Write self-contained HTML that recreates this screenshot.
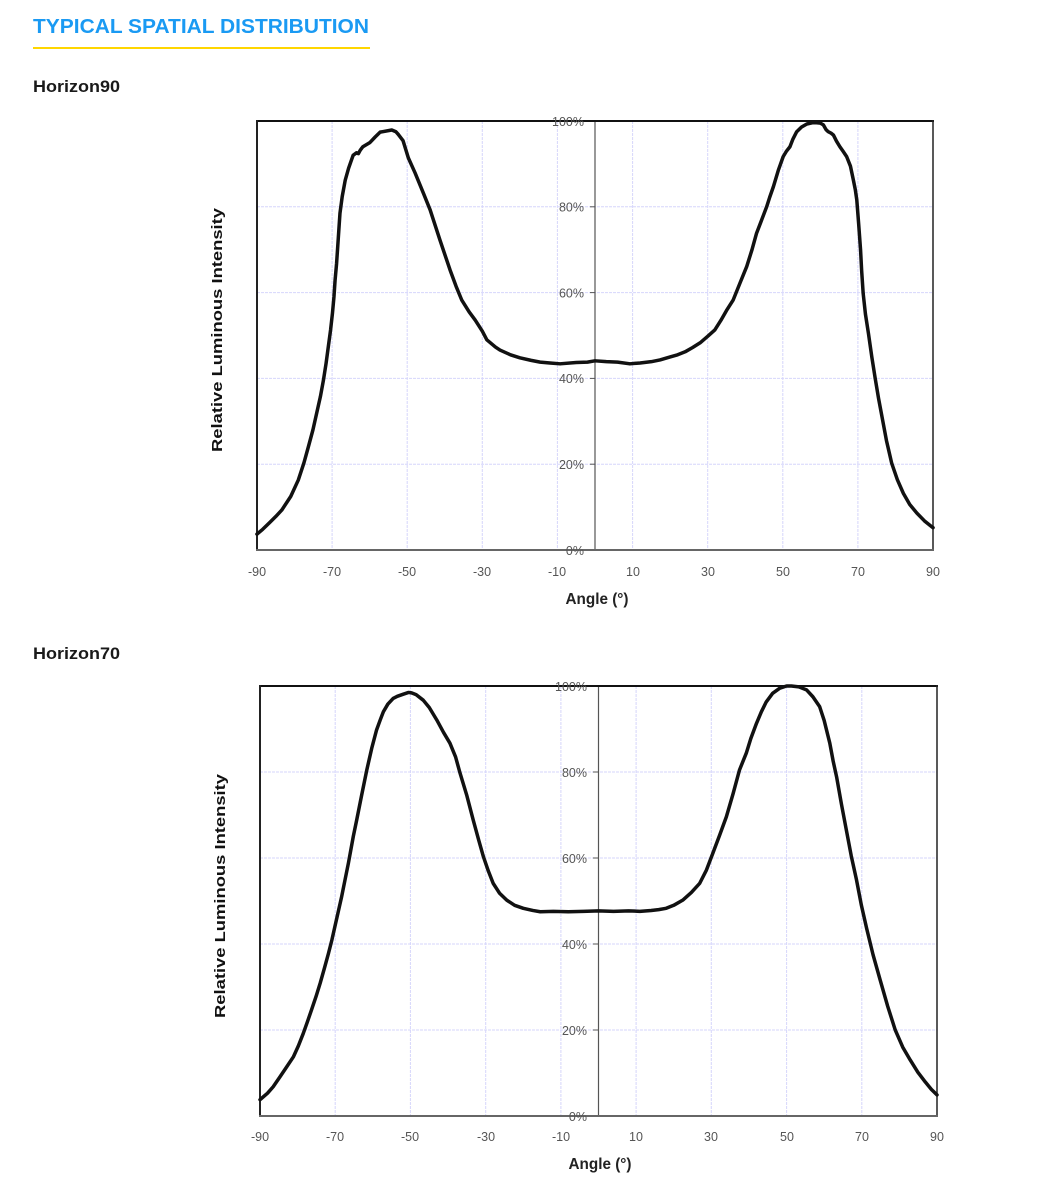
<!DOCTYPE html>
<html><head><meta charset="utf-8"><style>
html,body{margin:0;padding:0;background:#fff;}
svg{display:block;}
</style></head><body>
<svg width="1059" height="1200" viewBox="0 0 1059 1200" xmlns="http://www.w3.org/2000/svg" font-family="Liberation Sans, Arial, sans-serif">
<rect width="1059" height="1200" fill="#fff"/>
<text x="33" y="33" font-size="20" font-weight="bold" fill="#1a9af3" textLength="336" lengthAdjust="spacingAndGlyphs">TYPICAL SPATIAL DISTRIBUTION</text>
<rect x="33" y="47" width="337" height="2" fill="#ffd600"/>
<text x="33" y="92" font-size="17" font-weight="bold" fill="#1a1a1a" textLength="87" lengthAdjust="spacingAndGlyphs">Horizon90</text>
<text x="33" y="659" font-size="17" font-weight="bold" fill="#1a1a1a" textLength="87" lengthAdjust="spacingAndGlyphs">Horizon70</text>

<!-- Chart 1 -->
<g stroke="#d6d6fb" stroke-width="1" stroke-dasharray="3,1">
<line x1="332.1" y1="121" x2="332.1" y2="550"/><line x1="407.2" y1="121" x2="407.2" y2="550"/>
<line x1="482.3" y1="121" x2="482.3" y2="550"/><line x1="557.4" y1="121" x2="557.4" y2="550"/>
<line x1="632.6" y1="121" x2="632.6" y2="550"/><line x1="707.7" y1="121" x2="707.7" y2="550"/>
<line x1="782.8" y1="121" x2="782.8" y2="550"/><line x1="857.9" y1="121" x2="857.9" y2="550"/>
<line x1="257" y1="206.8" x2="933" y2="206.8"/><line x1="257" y1="292.6" x2="933" y2="292.6"/>
<line x1="257" y1="378.4" x2="933" y2="378.4"/><line x1="257" y1="464.2" x2="933" y2="464.2"/>
</g>
<line x1="595" y1="121" x2="595" y2="550" stroke="#555" stroke-width="1.2"/>
<g stroke="#555" stroke-width="1">
<line x1="590" y1="121" x2="595" y2="121"/><line x1="590" y1="206.8" x2="595" y2="206.8"/>
<line x1="590" y1="292.6" x2="595" y2="292.6"/><line x1="590" y1="378.4" x2="595" y2="378.4"/>
<line x1="590" y1="464.2" x2="595" y2="464.2"/><line x1="590" y1="550" x2="595" y2="550"/>
</g>
<line x1="256" y1="121" x2="934" y2="121" stroke="#111" stroke-width="2"/>
<line x1="257" y1="120" x2="257" y2="551" stroke="#222" stroke-width="2"/>
<line x1="933" y1="120" x2="933" y2="551" stroke="#222" stroke-width="1.5"/>
<line x1="256" y1="550" x2="934" y2="550" stroke="#666" stroke-width="2"/>
<g font-size="12.5" fill="#555" text-anchor="end">
<text x="584" y="126">100%</text><text x="584" y="211.5">80%</text><text x="584" y="297.5">60%</text>
<text x="584" y="383">40%</text><text x="584" y="469">20%</text><text x="584" y="555">0%</text>
</g>
<g font-size="12.5" fill="#555" text-anchor="middle">
<text x="257" y="576">-90</text><text x="332" y="576">-70</text><text x="407" y="576">-50</text>
<text x="482" y="576">-30</text><text x="557" y="576">-10</text><text x="633" y="576">10</text>
<text x="708" y="576">30</text><text x="783" y="576">50</text><text x="858" y="576">70</text><text x="933" y="576">90</text>
</g>
<text x="597" y="604" font-size="16" font-weight="bold" fill="#222" text-anchor="middle" textLength="63" lengthAdjust="spacingAndGlyphs">Angle (°)</text>
<text transform="translate(222,330) rotate(-90)" font-size="15" font-weight="bold" fill="#111" text-anchor="middle" textLength="244" lengthAdjust="spacingAndGlyphs">Relative Luminous Intensity</text>
<g transform="translate(595,550) scale(3.756,-4.29)">
<polyline fill="none" stroke="#111" stroke-width="3.5" stroke-linejoin="round" stroke-linecap="round" vector-effect="non-scaling-stroke" points="-90,3.7 -88.5,4.8 -86.5,6.5 -85,7.8 -83.4,9.3 -81,12.5 -79,16.3 -77.5,20.3 -76.3,24.1 -75.1,28 -74.1,31.9 -73.1,35.8 -72.3,39.6 -71.6,43.5 -71,47.4 -70.4,51.3 -69.9,55.2 -69.5,59 -69.2,62.9 -68.8,66.8 -68.5,70.7 -68.2,74.6 -67.9,78.5 -67.3,82.4 -66.5,86.2 -65.6,89 -64.4,92 -63.5,92.6 -63,92.4 -62.5,93.2 -61.8,94 -59.9,95 -58.5,96.3 -57.2,97.4 -54.1,97.9 -53,97.5 -52.4,96.9 -51.1,95.4 -49.7,91.4 -47.9,87.9 -45.7,83.2 -43.9,79.3 -41.3,72.3 -38.6,65.3 -37,61.5 -35.5,58.3 -33.5,55.5 -31.9,53.6 -30,51 -28.8,49 -26.5,47.3 -25.3,46.6 -22.5,45.5 -20,44.8 -17,44.2 -14.6,43.8 -12,43.6 -9.3,43.4 -5,43.7 -2,43.8 0,44.1 3,43.9 6,43.8 9.3,43.4 12,43.6 15,43.9 17.3,44.3 20,45 22,45.5 24,46.2 26,47.2 28,48.3 30,49.8 31.9,51.3 33.5,53.5 35,55.8 36.8,58.3 38.5,62 40.4,66.1 41.8,70 43,73.8 44.4,77 45.7,80 46.5,82.2 47.5,84.7 48.8,88.5 50.1,91.7 51,93 51.9,94 52.7,95.8 53.7,97.5 55,98.6 56.4,99.3 58,99.6 59,99.6 60,99.5 60.8,99.1 61.5,98 62.1,97.5 62.8,97.2 63.5,96.7 64.3,95.3 65.2,94 66,93 67,91.7 68,89.5 68.8,86.2 69.3,84 69.7,81.6 70.2,76 70.7,70 71,65 71.4,59.8 72,55 72.8,50.5 73.7,45 74.6,40 75.5,35.3 76.4,31.1 77.6,25.5 79,20.2 80.5,16.4 82.1,13.2 83.8,10.6 85.7,8.6 87.7,6.8 89.7,5.4 90,5.2"/>
</g>

<!-- Chart 2 -->
<g stroke="#d6d6fb" stroke-width="1" stroke-dasharray="3,1">
<line x1="335.2" y1="686" x2="335.2" y2="1116"/><line x1="410.4" y1="686" x2="410.4" y2="1116"/>
<line x1="485.7" y1="686" x2="485.7" y2="1116"/><line x1="560.9" y1="686" x2="560.9" y2="1116"/>
<line x1="636.1" y1="686" x2="636.1" y2="1116"/><line x1="711.3" y1="686" x2="711.3" y2="1116"/>
<line x1="786.6" y1="686" x2="786.6" y2="1116"/><line x1="861.8" y1="686" x2="861.8" y2="1116"/>
<line x1="260" y1="772" x2="937" y2="772"/><line x1="260" y1="858" x2="937" y2="858"/>
<line x1="260" y1="944" x2="937" y2="944"/><line x1="260" y1="1030" x2="937" y2="1030"/>
</g>
<line x1="598.5" y1="686" x2="598.5" y2="1116" stroke="#555" stroke-width="1.2"/>
<g stroke="#555" stroke-width="1">
<line x1="593" y1="686" x2="598.5" y2="686"/><line x1="593" y1="772" x2="598.5" y2="772"/>
<line x1="593" y1="858" x2="598.5" y2="858"/><line x1="593" y1="944" x2="598.5" y2="944"/>
<line x1="593" y1="1030" x2="598.5" y2="1030"/><line x1="593" y1="1116" x2="598.5" y2="1116"/>
</g>
<line x1="259" y1="686" x2="938" y2="686" stroke="#111" stroke-width="2"/>
<line x1="260" y1="685" x2="260" y2="1117" stroke="#222" stroke-width="2"/>
<line x1="937" y1="685" x2="937" y2="1117" stroke="#222" stroke-width="1.5"/>
<line x1="259" y1="1116" x2="938" y2="1116" stroke="#666" stroke-width="2"/>
<g font-size="12.5" fill="#555" text-anchor="end">
<text x="587" y="691">100%</text><text x="587" y="777">80%</text><text x="587" y="863">60%</text>
<text x="587" y="949">40%</text><text x="587" y="1035">20%</text><text x="587" y="1121">0%</text>
</g>
<g font-size="12.5" fill="#555" text-anchor="middle">
<text x="260" y="1141">-90</text><text x="335" y="1141">-70</text><text x="410" y="1141">-50</text>
<text x="486" y="1141">-30</text><text x="561" y="1141">-10</text><text x="636" y="1141">10</text>
<text x="711" y="1141">30</text><text x="787" y="1141">50</text><text x="862" y="1141">70</text><text x="937" y="1141">90</text>
</g>
<text x="600" y="1169" font-size="16" font-weight="bold" fill="#222" text-anchor="middle" textLength="63" lengthAdjust="spacingAndGlyphs">Angle (°)</text>
<text transform="translate(225,896) rotate(-90)" font-size="15" font-weight="bold" fill="#111" text-anchor="middle" textLength="244" lengthAdjust="spacingAndGlyphs">Relative Luminous Intensity</text>
<g transform="translate(598.5,1116) scale(3.761,-4.3)">
<polyline fill="none" stroke="#111" stroke-width="3.5" stroke-linejoin="round" stroke-linecap="round" vector-effect="non-scaling-stroke" points="-90,3.8 -89.6,4.1 -88,5.3 -86.5,6.8 -84.7,9.1 -83,11.3 -81.1,13.8 -79.8,16.3 -78.5,19.2 -77.4,21.9 -76.3,24.7 -75.1,27.8 -74,30.9 -72.9,34.3 -71.8,37.8 -70.9,40.9 -70.1,44 -69.2,47.5 -68.3,51 -67.4,54.9 -66.5,58.8 -65.2,65 -64.3,68.8 -63,74.5 -61.6,80.5 -60.3,85.5 -59,89.8 -58,92.2 -57.2,94 -56,95.8 -54.6,97.1 -53.5,97.6 -51.9,98.1 -50.5,98.5 -49.7,98.4 -48.5,98 -46.6,96.7 -45,95 -43,92.1 -41.2,89.2 -39.5,86.7 -38,83.5 -36.8,79.7 -35,74.5 -33.3,68.8 -31.8,64 -30.6,60.3 -29.3,57 -28,54.1 -26.3,51.8 -24.4,50.2 -22.3,49 -20,48.3 -17.5,47.8 -15.5,47.5 -12,47.6 -8,47.5 -4,47.6 0,47.7 4,47.6 8,47.7 11,47.6 14,47.8 16,48 18,48.3 20,49 22.4,50.2 24.7,52 26.9,54.1 28.7,57.2 30.4,61.1 32.2,65.3 34,69.6 35.8,75 37.5,80.5 39.3,84.4 40.5,87.8 42,91.3 43.3,94 44.6,96.3 46.3,98.3 48.2,99.5 50,100 51.3,100 53.3,99.8 55.3,99.1 57,97.5 58.8,95.2 60,92 61.5,86.7 62.4,82.5 63.3,78.9 64.6,72.5 65.9,66.5 67.2,60.5 68.6,54.9 69.9,49 71.3,43.6 73,37.5 74.9,31.6 76.9,25.5 78.9,20 80.9,16 82.9,13 84.9,10.2 86.9,7.9 88.5,6.2 90,4.9"/>
</g>
</svg>
</body></html>
